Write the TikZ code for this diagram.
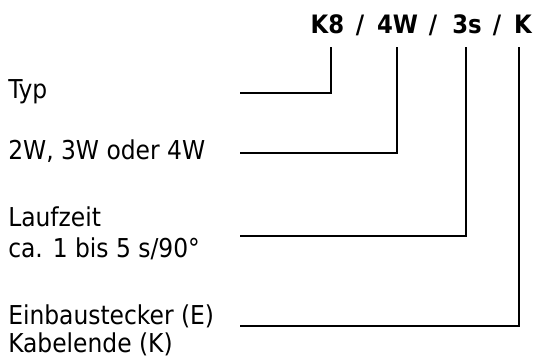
\documentclass[tikz,border=0pt]{standalone}
\usepackage{fontspec}
\setmainfont{DejaVu Sans Condensed}
\begin{document}
\begin{tikzpicture}[x=0.75pt,y=-0.75pt,
  lbl/.style={anchor=base west,inner sep=0pt,align=left,font=\fontsize{19.5}{21}\selectfont},
  ttl/.style={anchor=base,inner sep=0pt,font=\fontsize{19}{22}\selectfont\bfseries},
  conn/.style={line width=1.5pt,line join=miter}]
\useasboundingbox (0,0) rectangle (536,363);
% title parts
\node[ttl] (k8) at (327.5,34) {K8};
\node[ttl] (s1) at (360,34) {/};
\node[ttl] (w4) at (397.5,34) {4W};
\node[ttl] (s2) at (433,34) {/};
\node[ttl] (s3) at (467,34) {3s};
\node[ttl] (s4) at (497,34) {/};
\node[ttl] (kk) at (523,34) {K};
\coordinate (t1) at (331,47);
\coordinate (t2) at (397,47);
\coordinate (t3) at (466,47);
\coordinate (t4) at (519,47);
% labels
\node[lbl] (typ) at (8,99) {Typ};
\node[lbl] (wege) at (8,160) {2W, 3W oder 4W};
\node[lbl] (lauf) at (8,227) {Laufzeit};
\node[lbl] (lauf2) at (8,258) {ca. 1 bis 5 s/90°};
\node[lbl] (einb) at (8,325) {Einbaustecker (E)};
\node[lbl] (einb2) at (8,353) {Kabelende (K)};
% connector starts
\coordinate (a1) at (240,93);
\coordinate (a2) at (240,153);
\coordinate (a3) at (240,236);
\coordinate (a4) at (240,326);
\draw[conn] (a1) -| (t1);
\draw[conn] (a2) -| (t2);
\draw[conn] (a3) -| (t3);
\draw[conn] (a4) -| (t4);
\end{tikzpicture}
\end{document}
